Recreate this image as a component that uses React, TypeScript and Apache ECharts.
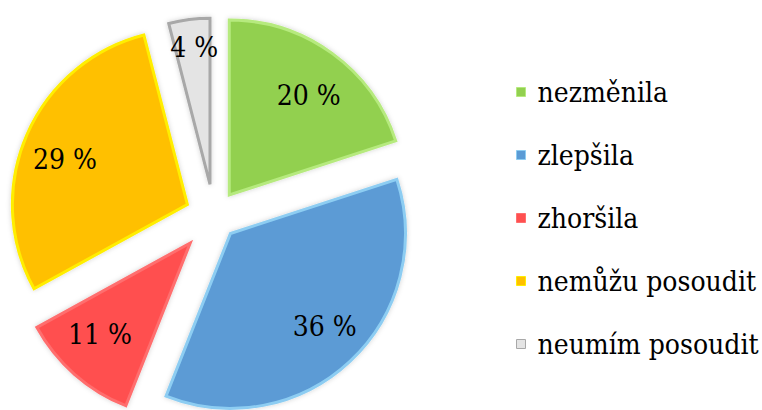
import React, { useEffect, useRef } from "react";
import * as echarts from "echarts";

// Survey answers, in drawing order (clockwise from 12 o'clock)
const categories = ["nezměnila", "zlepšila", "zhoršila", "nemůžu posoudit", "neumím posoudit"];
const shares = [20, 36, 11, 29, 4];

// Slice styling
const fills = ["#92D050", "#5B9BD5", "#FF5050", "#FFC000", "#E4E4E4"];
const rims = ["#B6EA7E", "#8DCDF2", "#FF6E6E", "#FFEE00", "#A8A8A8"];
const explode = [26, 24, 36, 29, 32];
const radii = [175, 175, 175, 175, 166];
const labelNudge = [[1, 8], [3, -4], [-2, -9], [0, 8], [0, -11]];

const CX = 214;
const CY = 216;
const FONT = "DejaVu Serif Condensed";

function buildSeries(): any[] {
  const total = shares.reduce((a, b) => a + b, 0);
  const out: any[] = [];
  let cum = 0;
  shares.forEach((v, k) => {
    const mid = ((cum + v / 2) / total) * Math.PI * 2;
    cum += v;
    const cx = CX + explode[k] * Math.sin(mid);
    const cy = CY - explode[k] * Math.cos(mid);
    const hidden = { color: "rgba(0,0,0,0)", borderWidth: 0, shadowBlur: 0 };
    // the visible wedge
    out.push({
      type: "pie",
      center: [cx, cy],
      radius: [0, radii[k]],
      startAngle: 90,
      clockwise: true,
      silent: true,
      avoidLabelOverlap: false,
      label: { show: false },
      labelLine: { show: false },
      emphasis: { disabled: true },
      data: shares.map((val, i) => ({
        name: categories[i],
        value: val,
        itemStyle:
          i === k
            ? {
                color: fills[k],
                borderColor: rims[k],
                borderWidth: 3,
                borderJoin: "miter",
                shadowBlur: 5,
                shadowColor: "rgba(0,0,0,0.18)",
              }
            : hidden,
      })),
    });
    // its percentage label, placed in the outer part of the wedge
    out.push({
      type: "pie",
      center: [cx, cy],
      radius: [radii[k] * 0.49, radii[k]],
      startAngle: 90,
      clockwise: true,
      silent: true,
      avoidLabelOverlap: false,
      labelLine: { show: false },
      emphasis: { disabled: true },
      data: shares.map((val, i) => ({
        name: categories[i],
        value: val,
        itemStyle: hidden,
        label: {
          show: i === k,
          position: "inside",
          formatter: "{c} %",
          fontSize: 28,
          fontFamily: FONT,
          color: "#000",
          offset: labelNudge[k],
        },
      })),
    });
  });
  return out;
}

export default function App() {
  const ref = useRef<HTMLDivElement>(null);

  useEffect(() => {
    if (!ref.current) return;
    const chart = echarts.init(ref.current, undefined, { renderer: "svg" });
    chart.setOption({
      animation: false,
      backgroundColor: "#ffffff",
      textStyle: { fontFamily: FONT },
      legend: {
        orient: "vertical",
        left: 511,
        top: 72,
        icon: "rect",
        itemWidth: 9,
        itemHeight: 9,
        itemGap: 33,
        selectedMode: false,
        textStyle: {
          fontSize: 28,
          lineHeight: 30,
          fontFamily: FONT,
          color: "#000",
          padding: [0, 0, 0, 7],
        },
        data: categories.map((name, i) => ({
          name,
          itemStyle: { color: fills[i], borderColor: rims[i], borderWidth: 1, opacity: 1 },
        })),
      },
      series: buildSeries(),
    });
    return () => chart.dispose();
  }, []);

  return (
    <div
      ref={ref}
      style={{ position: "fixed", left: 0, top: 0, width: 762, height: 410 }}
    />
  );
}
